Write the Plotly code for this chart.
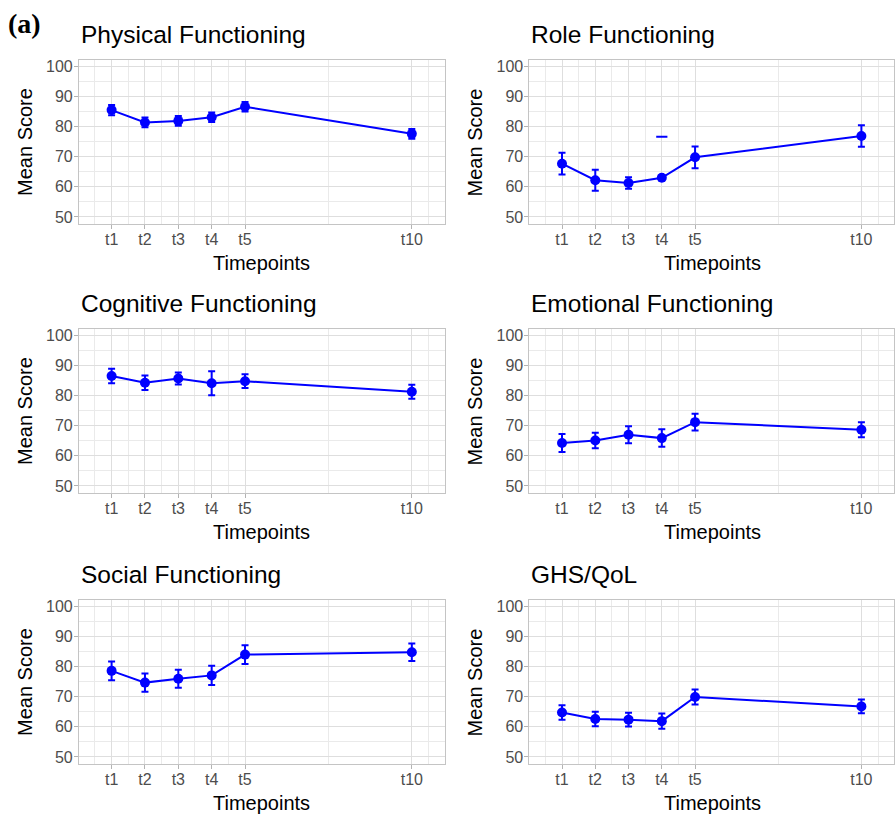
import plotly.graph_objects as go
from plotly.subplots import make_subplots

# ---------------- data ----------------
timepoints = [1, 2, 3, 4, 5, 10]
tick_labels = ["t1", "t2", "t3", "t4", "t5", "t10"]
y_ticks = [50, 60, 70, 80, 90, 100]

panel_titles = ["Physical Functioning", "Role Functioning",
                "Cognitive Functioning", "Emotional Functioning",
                "Social Functioning", "GHS/QoL"]

physical_mean = [85.5, 81.4, 81.9, 83.1, 86.6, 77.6]
physical_err = [1.7, 1.6, 1.6, 1.6, 1.6, 1.6]

role_mean = [67.7, 62.2, 61.3, 63.0, 69.8, 76.9]
role_err = [3.6, 3.5, 1.9, 0.8, 3.6, 3.6]
role_stray_x = [4]
role_stray_y = [76.6]

cognitive_mean = [86.5, 84.3, 85.7, 84.1, 84.8, 81.3]
cognitive_err = [2.4, 2.4, 2.0, 4.0, 2.3, 2.3]

emotional_mean = [64.3, 65.1, 67.0, 65.9, 71.2, 68.7]
emotional_err = [3.0, 2.6, 2.8, 2.9, 2.8, 2.5]

social_mean = [78.6, 74.7, 76.0, 77.1, 84.0, 84.8]
social_err = [3.1, 3.0, 3.0, 3.2, 3.1, 2.9]

ghs_mean = [64.8, 62.6, 62.4, 61.9, 69.9, 66.8]
ghs_err = [2.4, 2.4, 2.3, 2.5, 2.5, 2.3]

means = [physical_mean, role_mean, cognitive_mean,
         emotional_mean, social_mean, ghs_mean]
errs = [physical_err, role_err, cognitive_err,
        emotional_err, social_err, ghs_err]

# ---------------- layout geometry (pixels) ----------------
W, H = 895, 822
col_x = [(79, 445), (530, 895)]
row_y = [(58, 223), (328, 493), (600, 765)]

BLUE = "#0000FF"
FONT = "Liberation Sans, Arial, sans-serif"

fig = make_subplots(rows=3, cols=2)

annotations = []
for i in range(6):
    r, c = divmod(i, 2)
    fig.add_trace(go.Scatter(
        x=timepoints, y=means[i], mode="lines+markers",
        line=dict(color=BLUE, width=2),
        marker=dict(color=BLUE, size=10),
        error_y=dict(type="data", array=errs[i], visible=True,
                     color=BLUE, thickness=2, width=3.5),
        showlegend=False, hoverinfo="x+y"),
        row=r + 1, col=c + 1)
    if i == 1:
        fig.add_trace(go.Scatter(
            x=role_stray_x, y=role_stray_y, mode="markers",
            marker=dict(symbol="line-ew", size=8,
                        line=dict(color=BLUE, width=2)),
            showlegend=False, hoverinfo="skip"),
            row=1, col=2)

    x0, x1 = col_x[c]
    y0, y1 = row_y[r]
    suffix = "" if i == 0 else str(i + 1)
    fig.layout["xaxis" + suffix].update(
        domain=[x0 / W, x1 / W],
        range=[0.02, 10.98],
        tickvals=timepoints, ticktext=tick_labels,
        tickfont=dict(family=FONT, size=16, color="#4D4D4D"),
        ticks="outside", ticklen=4, tickcolor="#B3B3B3",
        ticklabelstandoff=-3,
        showgrid=True, gridcolor="#DEDEDE", gridwidth=1,
        minor=dict(tickvals=[0.5, 1.5, 2.5, 3.5, 4.5, 7.5, 10.5],
                   showgrid=True, gridcolor="#EAEAEA", gridwidth=1),
        showline=True, mirror=True, linecolor="#C4C4C4", linewidth=1,
        zeroline=False, fixedrange=True)
    fig.layout["yaxis" + suffix].update(
        domain=[1 - y1 / H, 1 - y0 / H],
        range=[47.6, 102.2],
        tickvals=y_ticks,
        tickfont=dict(family=FONT, size=16, color="#4D4D4D"),
        ticks="outside", ticklen=4, tickcolor="#B3B3B3",
        ticklabelstandoff=-2,
        showgrid=True, gridcolor="#DEDEDE", gridwidth=1,
        minor=dict(tickvals=[55, 65, 75, 85, 95],
                   showgrid=True, gridcolor="#EAEAEA", gridwidth=1),
        showline=True, mirror=True, linecolor="#C4C4C4", linewidth=1,
        zeroline=False, fixedrange=True)

    # panel title
    annotations.append(dict(
        text=panel_titles[i], x=x0 / W, y=1 - (y0 - 25) / H,
        xref="paper", yref="paper", xanchor="left", yanchor="middle",
        showarrow=False, font=dict(family=FONT, size=24.5, color="#000000")))
    # y axis title
    annotations.append(dict(
        text="Mean Score", x=(x0 - 54) / W, y=1 - ((y0 + y1) / 2) / H,
        xref="paper", yref="paper", xanchor="center", yanchor="middle",
        textangle=-90, showarrow=False,
        font=dict(family=FONT, size=20, color="#000000")))
    # x axis title
    annotations.append(dict(
        text="Timepoints", x=(x0 + 366 / 2) / W, y=1 - (y1 + 39) / H,
        xref="paper", yref="paper", xanchor="center", yanchor="middle",
        showarrow=False, font=dict(family=FONT, size=20, color="#000000")))

annotations.append(dict(
    text="<b>(a)</b>", x=6 / W, y=1 - 22 / H, xref="paper", yref="paper",
    xanchor="left", yanchor="middle", showarrow=False,
    font=dict(family="Liberation Serif, Times New Roman, serif",
              size=28, color="#000000")))

fig.update_layout(
    width=W, height=H,
    margin=dict(l=0, r=0, t=0, b=0),
    paper_bgcolor="white", plot_bgcolor="white",
    annotations=annotations,
    showlegend=False)

fig.write_html("out.html",
               config={"displayModeBar": False},
               post_script="document.body.style.margin='0';"
                           "document.body.style.overflow='hidden';")
